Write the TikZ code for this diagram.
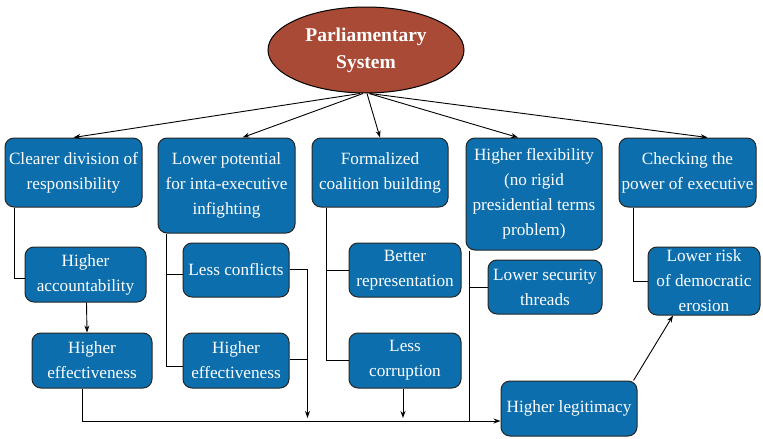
\documentclass[tikz,border=0pt]{standalone}
\usepackage{fontspec}
\setmainfont{Liberation Serif}
\usetikzlibrary{shapes.geometric,arrows.meta}
\definecolor{boxblue}{RGB}{12,110,172}
\definecolor{brick}{RGB}{168,74,54}
\begin{document}
\begin{tikzpicture}[x=1pt, y=-1pt,
        box/.style={rectangle, rounded corners=9pt, draw=black!85, line width=1pt, fill=boxblue, text=white, align=center, inner sep=1pt, font=\fontsize{17.2}{25}\selectfont},
        link/.style={line width=0.9pt, black},
        arr/.style={link, -{Stealth[length=7pt,width=5pt]}}]
            \useasboundingbox (0,0) rectangle (763,439);
            \node[ellipse, draw=black, line width=1pt, fill=brick, text=white, minimum width=196pt, minimum height=86pt, align=center, font=\bfseries\fontsize{19.5}{27}\selectfont] (ps) at (366,50) {Parliamentary\\System};
            \node[box, minimum width=137pt, minimum height=69pt] (clear) at (73.5,172.5) {Clearer division of\\responsibility};
            \node[box, minimum width=137pt, minimum height=95pt] (lower) at (226.5,185.5) {Lower potential\\for inta-executive\\infighting};
            \node[box, minimum width=136pt, minimum height=69pt] (formal) at (380,172.5) {Formalized\\coalition building};
            \node[box, minimum width=136pt, minimum height=112pt] (flex) at (534,194) {Higher flexibility\\(no rigid\\presidential terms\\problem)};
            \node[box, minimum width=137pt, minimum height=69pt] (check) at (687.5,172.5) {Checking the\\power of executive};
            \node[box, minimum width=121pt, minimum height=55pt] (account) at (85.5,274.5) {Higher\\accountability};
            \node[box, minimum width=120pt, minimum height=55pt] (effleft) at (92,360.5) {Higher\\effectiveness};
            \node[box, minimum width=106pt, minimum height=54pt] (conflicts) at (236,270) {Less conflicts};
            \node[box, minimum width=106pt, minimum height=55pt] (effmid) at (236,360.5) {Higher\\effectiveness};
            \node[box, minimum width=112pt, minimum height=54pt] (better) at (405,270) {Better\\representation};
            \node[box, minimum width=112pt, minimum height=55pt] (corrupt) at (405,360.5) {Less\\corruption};
            \node[box, minimum width=114pt, minimum height=54pt] (security) at (545,287) {Lower security\\threads};
            \node[box, minimum width=112pt, minimum height=68pt] (risk) at (704,281) {Lower risk\\of democratic\\erosion};
            \node[box, minimum width=136pt, minimum height=55pt] (legit) at (569,408.5) {Higher legitimacy};
            \draw[arr] ([xshift=-6pt]ps.south) -- (clear.north);
            \draw[arr] ([xshift=-3pt]ps.south) -- ([xshift=16pt]lower.north);
            \draw[arr] ([xshift=1pt]ps.south) -- (formal.north);
            \draw[arr] ([xshift=3pt]ps.south) -- ([xshift=-16pt]flex.north);
            \draw[arr] ([xshift=4pt]ps.south) -- ([xshift=20pt]check.north);
            \coordinate (legin) at ([yshift=-12.5pt]legit.west);
            \draw[link] ([xshift=10pt]clear.south west) |- ([yshift=-4pt]account.west);
            \draw[arr] ([xshift=1pt]account.south) -- ([xshift=-5pt]effleft.north);
            \draw[arr] ([xshift=-10pt]effleft.south) |- (legin);
            \coordinate (lowerbus) at ([xshift=9pt]lower.south west);
            \draw[link] (lowerbus) |- ([yshift=-6pt]effmid.west);
            \draw[link] ([yshift=-4pt]conflicts.west) -- ([yshift=-4pt]conflicts.west -| lowerbus);
            \draw[link] ([yshift=1pt]conflicts.east) -- ++(18,0) coordinate (cbus);
            \draw[arr, shorten >=3pt] (cbus) -- (cbus |- legin);
            \draw[link] ([yshift=1pt]effmid.east) -- ([yshift=1pt]effmid.east -| cbus);
            \coordinate (formalbus) at ([xshift=15pt]formal.south west);
            \draw[link] (formalbus) |- (corrupt.west);
            \draw[link] (better.west) -- (better.west -| formalbus);
            \draw[arr, shorten >=3pt] ([xshift=-2pt]corrupt.south) -- ([xshift=-2pt]corrupt.south |- legin);
            \coordinate (flexbus) at ([xshift=4pt]flex.south west);
            \draw[link] (flexbus) -- (flexbus |- legin);
            \draw[link] (security.west) -- (security.west -| flexbus);
            \draw[link] ([xshift=15pt]check.south west) |- (risk.west);
            \draw[arr] ([xshift=-4pt]legit.north east) -- ([xshift=-31pt]risk.south);
        \end{tikzpicture}
\end{document}
